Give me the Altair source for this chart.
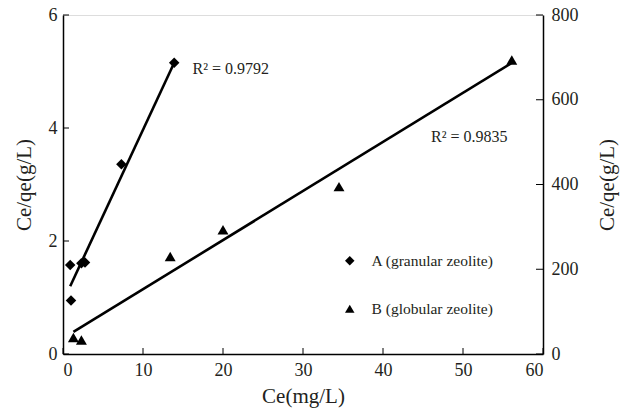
import altair as alt
import pandas as pd

# Series A (granular zeolite) - left axis
a_x = [0.9, 1.0, 2.3, 2.75, 7.3, 13.9]
a_y = [1.575, 0.945, 1.605, 1.62, 3.36, 5.155]
# Series B (globular zeolite) - right axis
b_x = [1.3, 2.3, 13.4, 20.0, 34.5, 56.1]
b_y = [39, 33, 230, 293, 395, 694]
# fitted lines (endpoints)
a_fit_x = [0.9, 13.9]
a_fit_y = [1.2, 5.155]
b_fit_x = [1.3, 56.0]
b_fit_y = [52, 686]
series_names = ["A (granular zeolite)", "B (globular zeolite)"]
x_ticks = [0, 10, 20, 30, 40, 50, 60]
left_ticks = [0, 2, 4, 6]
right_ticks = [0, 200, 400, 600, 800]
r2_a = ["R\u00b2 = 0.9792"]
r2_b = ["R\u00b2  = 0.9835"]

W, H = 480, 339
FONT = "Liberation Serif"
TXT = "#231f20"

dfa = pd.DataFrame({"x": a_x, "ya": a_y, "series": series_names[0]})
dfb = pd.DataFrame({"x": b_x, "yb": b_y, "series": series_names[1]})
fa = pd.DataFrame({"x": a_fit_x, "ya": a_fit_y})
fb = pd.DataFrame({"x": b_fit_x, "yb": b_fit_y})
xt = pd.DataFrame({"x": x_ticks})
lt = pd.DataFrame({"ya": left_ticks})
rt = pd.DataFrame({"yb": right_ticks})
ta = pd.DataFrame({"x": [16.2], "ya": [5.04], "t": r2_a})
tb = pd.DataFrame({"x": [46.0], "yb": [512], "t": r2_b})

xscale = alt.Scale(domain=[0, 60], nice=False)
xenc = alt.X("x:Q", scale=xscale, axis=alt.Axis(
    values=x_ticks, title="Ce(mg/L)", ticks=False, grid=False,
    labelPadding=7, titlePadding=6, labelFontSize=18, titleFontSize=21,
    domainColor="black", domainWidth=1.5, labelColor=TXT, titleColor=TXT,
    labelFont=FONT, titleFont=FONT, titleFontWeight="normal"))

ya_scale = alt.Scale(domain=[0, 6], nice=False)
ya_axis = alt.Axis(values=left_ticks, title="Ce/qe(g/L)", orient="left", ticks=False,
                   grid=False, labelPadding=6, titlePadding=14, labelFontSize=18,
                   titleFontSize=21, domainColor="black", domainWidth=1.5,
                   labelColor=TXT, titleColor=TXT, labelFont=FONT, titleFont=FONT,
                   titleFontWeight="normal")
yb_scale = alt.Scale(domain=[0, 800], nice=False)
yb_axis = alt.Axis(values=right_ticks, title="Ce/qe(g/L)", orient="right", ticks=False,
                   grid=False, labelPadding=8, titlePadding=39, labelFontSize=18,
                   titleFontSize=21, titleAngle=270, domainColor="black", domainWidth=1.5,
                   labelColor=TXT, titleColor=TXT, labelFont=FONT, titleFont=FONT,
                   titleFontWeight="normal")

shape_scale = alt.Scale(domain=series_names, range=["diamond", "triangle-up"])
legend = alt.Legend(title=None, orient="none", legendX=279, legendY=238,
                    labelFont=FONT, labelFontSize=15.5, labelColor=TXT,
                    symbolFillColor="black", symbolStrokeColor="black",
                    symbolSize=90, rowPadding=31, symbolOffset=0, labelOffset=14)

YA = alt.Y("ya:Q", scale=ya_scale, axis=ya_axis)
YB = alt.Y("yb:Q", scale=yb_scale, axis=yb_axis)

pts_a = alt.Chart(dfa).mark_point(filled=True, color="black", size=110, opacity=1).encode(
    x=xenc, y=YA, shape=alt.Shape("series:N", scale=shape_scale, legend=legend))
line_a = alt.Chart(fa).mark_line(color="black", strokeWidth=2.6).encode(x=xenc, y=YA)
xtick = alt.Chart(xt).mark_rule(color="black", strokeWidth=1).encode(
    x=xenc, y=alt.value(H), y2=alt.value(H - 6))
ltick = alt.Chart(lt).mark_rule(color="black", strokeWidth=1).encode(
    y=YA, x=alt.value(0), x2=alt.value(6))
txt_a = alt.Chart(ta).mark_text(align="left", baseline="middle", font=FONT, fontSize=16,
                                color=TXT).encode(x=xenc, y=YA, text="t:N")

pts_b = alt.Chart(dfb).mark_point(filled=True, color="black", size=120, opacity=1).encode(
    x=xenc, y=YB, shape=alt.Shape("series:N", scale=shape_scale, legend=legend))
line_b = alt.Chart(fb).mark_line(color="black", strokeWidth=2.6).encode(x=xenc, y=YB)
rtick = alt.Chart(rt).mark_rule(color="black", strokeWidth=1).encode(
    y=YB, x=alt.value(W), x2=alt.value(W - 7))
txt_b = alt.Chart(tb).mark_text(align="left", baseline="middle", font=FONT, fontSize=16,
                                color=TXT).encode(x=xenc, y=YB, text="t:N")

group_a = alt.layer(line_a, pts_a, xtick, ltick, txt_a)
group_b = alt.layer(line_b, pts_b, rtick, txt_b)

chart = alt.layer(group_a, group_b).resolve_scale(y="independent").properties(
    width=W, height=H,
    autosize=alt.AutoSizeParams(type="none"),
    padding={"left": 63, "top": 15, "right": 78, "bottom": 62},
    background="white",
).configure_view(stroke="black", strokeWidth=1.5).configure(font=FONT)

chart.save("out.html", embed_options={"renderer": "svg", "actions": False})
